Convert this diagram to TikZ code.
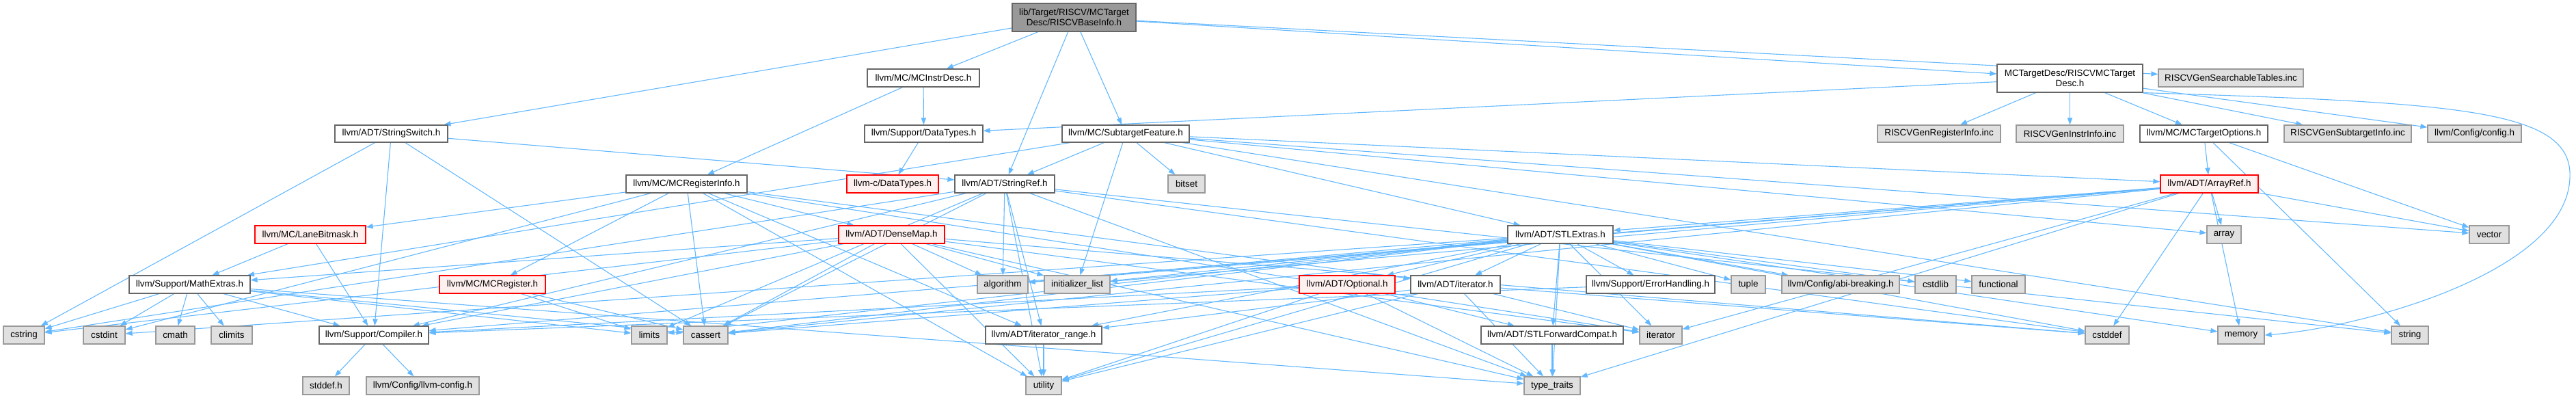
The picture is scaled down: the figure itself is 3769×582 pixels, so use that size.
\documentclass[tikz,border=0pt]{standalone}
\usepackage{fontspec}
\setmainfont{Liberation Sans}
\usetikzlibrary{arrows.meta}
\pgfdeclarelayer{background}
\pgfsetlayers{background,main}
\definecolor{edgeblue}{HTML}{63B8FF}
\definecolor{nodegray}{HTML}{E0E0E0}
\definecolor{bordergray}{HTML}{999999}
\definecolor{borderdark}{HTML}{666666}
\definecolor{redfill}{HTML}{FFF0F0}
\definecolor{rootfill}{HTML}{999999}
\tikzset{
  nbase/.style={draw, rectangle, inner sep=0pt, line width=0.6pt, font=\fontsize{6.7}{7.6}\selectfont, align=center, text=black},
  wn/.style={nbase, draw=borderdark, fill=white},
  gn/.style={nbase, draw=bordergray, fill=nodegray},
  rn/.style={nbase, draw=red, fill=redfill},
  rootn/.style={nbase, draw=borderdark, fill=rootfill},
  e/.style={draw=edgeblue, line width=0.55pt, -{Triangle[length=5pt,width=3.6pt]}}
}
\newcommand\mybox[7]{\node[#1, minimum width={(#4-#3)*0.5pt}, minimum height={(#6-#5)*0.5pt}] (#2) at ({(#3+#4)/2},{(#5+#6)/2}) {#7};}
\begin{document}
\begin{tikzpicture}[x=0.5pt,y=-0.5pt]
\useasboundingbox (0,0) rectangle (3769,582);
% row 0
\mybox{rootn}{root}{1481}{1662}{5}{46}{lib/Target/RISCV/MCTarget\\Desc/RISCVBaseInfo.h}
% row 1
\mybox{wn}{instrdesc}{1269}{1433}{101}{127}{llvm/MC/MCInstrDesc.h}
\mybox{wn}{tdesc}{2922}{3135}{94}{135}{MCTargetDesc/RISCVMCTarget\\Desc.h}
\mybox{gn}{searchtab}{3158}{3370}{101}{127}{RISCVGenSearchableTables.inc}
% row 2
\mybox{wn}{sswitch}{490}{655}{183}{208}{llvm/ADT/StringSwitch.h}
\mybox{wn}{sdatatypes}{1265}{1438}{183}{208}{llvm/Support/DataTypes.h}
\mybox{wn}{subfeat}{1554}{1740}{183}{208}{llvm/MC/SubtargetFeature.h}
\mybox{gn}{genreg}{2747}{2927}{183}{208}{RISCVGenRegisterInfo.inc}
\mybox{gn}{geninstr}{2950}{3107}{183}{208}{RISCVGenInstrInfo.inc}
\mybox{wn}{topts}{3131}{3318}{183}{208}{llvm/MC/MCTargetOptions.h}
\mybox{gn}{gensub}{3342}{3528}{183}{208}{RISCVGenSubtargetInfo.inc}
\mybox{gn}{config}{3552}{3689}{183}{208}{llvm/Config/config.h}
% row 3
\mybox{wn}{reginfo}{916}{1093}{256}{282}{llvm/MC/MCRegisterInfo.h}
\mybox{rn}{cdatatypes}{1239}{1373}{256}{282}{llvm-c/DataTypes.h}
\mybox{wn}{sref}{1397}{1543}{256}{282}{llvm/ADT/StringRef.h}
\mybox{gn}{bitset}{1709}{1763}{256}{282}{bitset}
\mybox{rn}{aref}{3161}{3304}{256}{282}{llvm/ADT/ArrayRef.h}
% row 4
\mybox{rn}{lanebm}{373}{535}{330}{356}{llvm/MC/LaneBitmask.h}
\mybox{rn}{densemap}{1227}{1382}{330}{356}{llvm/ADT/DenseMap.h}
\mybox{wn}{stlextras}{2206}{2360}{330}{356}{llvm/ADT/STLExtras.h}
\mybox{gn}{array}{3229}{3279}{330}{356}{array}
\mybox{gn}{vector}{3613}{3671}{330}{356}{vector}
% row 5
\mybox{wn}{mathex}{189}{366}{403}{429}{llvm/Support/MathExtras.h}
\mybox{rn}{mcreg}{643}{798}{403}{429}{llvm/MC/MCRegister.h}
\mybox{gn}{algorithm}{1430}{1504}{403}{429}{algorithm}
\mybox{gn}{initlist}{1528}{1624}{403}{429}{initializer\_list}
\mybox{rn}{optional}{1901}{2041}{403}{429}{llvm/ADT/Optional.h}
\mybox{wn}{iterh}{2064}{2195}{403}{429}{llvm/ADT/iterator.h}
\mybox{wn}{errh}{2321}{2509}{403}{429}{llvm/Support/ErrorHandling.h}
\mybox{gn}{tuple}{2533}{2583}{403}{429}{tuple}
\mybox{gn}{abi}{2607}{2779}{403}{429}{llvm/Config/abi-breaking.h}
\mybox{gn}{cstdlib}{2802}{2862}{403}{429}{cstdlib}
\mybox{gn}{functional}{2885}{2963}{403}{429}{functional}
% row 6
\mybox{gn}{cstring}{5}{65}{477}{503}{cstring}
\mybox{gn}{cstdint}{122}{183}{477}{503}{cstdint}
\mybox{gn}{cmath}{228}{285}{477}{503}{cmath}
\mybox{gn}{climits}{309}{369}{477}{503}{climits}
\mybox{wn}{compiler}{467}{627}{477}{503}{llvm/Support/Compiler.h}
\mybox{gn}{limits}{924}{976}{477}{503}{limits}
\mybox{gn}{cassert}{1000}{1065}{477}{503}{cassert}
\mybox{wn}{itrange}{1442}{1612}{477}{503}{llvm/ADT/iterator\_range.h}
\mybox{wn}{stlfwd}{2167}{2375}{477}{503}{llvm/ADT/STLForwardCompat.h}
\mybox{gn}{iterator}{2399}{2461}{477}{503}{iterator}
\mybox{gn}{cstddef}{3051}{3115}{477}{503}{cstddef}
\mybox{gn}{memory}{3245}{3313}{477}{503}{memory}
\mybox{gn}{string}{3499}{3553}{477}{503}{string}
% row 7
\mybox{gn}{stddef}{443}{511}{551}{577}{stddef.h}
\mybox{gn}{llvmconfig}{536}{701}{551}{577}{llvm/Config/llvm-config.h}
\mybox{gn}{utility}{1501}{1553}{551}{577}{utility}
\mybox{gn}{typetraits}{2230}{2312}{551}{577}{type\_traits}
% edges
\begin{pgfonlayer}{background}
\foreach \s/\t in {
 root/instrdesc, root/sref, root/subfeat, root/tdesc, root/searchtab, root/sswitch,
 instrdesc/reginfo, instrdesc/sdatatypes,
 tdesc/sdatatypes, tdesc/genreg, tdesc/geninstr, tdesc/topts, tdesc/gensub, tdesc/config,
 sswitch/sref, sswitch/compiler, sswitch/cassert, sswitch/cstring,
 sdatatypes/cdatatypes,
 subfeat/sref, subfeat/aref, subfeat/stlextras, subfeat/mathex, subfeat/bitset, subfeat/initlist, subfeat/string, subfeat/vector, subfeat/array,
 topts/aref, topts/string, topts/vector,
 reginfo/densemap, reginfo/iterh, reginfo/itrange, reginfo/lanebm, reginfo/mcreg, reginfo/cassert, reginfo/cstdint, reginfo/iterator, reginfo/utility,
 sref/itrange, sref/compiler, sref/algorithm, sref/cassert, sref/cstddef, sref/cstring, sref/limits, sref/string, sref/typetraits, sref/utility,
 aref/stlextras, aref/compiler, aref/algorithm, aref/array, aref/cassert, aref/cstddef, aref/initlist, aref/iterator, aref/memory, aref/typetraits, aref/vector,
 lanebm/mathex, lanebm/compiler,
 densemap/compiler, densemap/mathex, densemap/algorithm, densemap/cassert, densemap/cstddef, densemap/cstring, densemap/initlist, densemap/iterator, densemap/typetraits, densemap/utility,
 stlextras/optional, stlextras/iterh, stlextras/errh, stlextras/stlfwd, stlextras/itrange, stlextras/abi, stlextras/algorithm, stlextras/cassert, stlextras/cstddef, stlextras/cstdint, stlextras/cstdlib, stlextras/functional, stlextras/initlist, stlextras/iterator, stlextras/limits, stlextras/memory, stlextras/tuple, stlextras/typetraits, stlextras/utility,
 mathex/compiler, mathex/cassert, mathex/climits, mathex/cmath, mathex/cstdint, mathex/cstring, mathex/limits, mathex/typetraits,
 mcreg/limits, mcreg/cassert,
 optional/stlfwd, optional/compiler, optional/cassert, optional/utility, optional/typetraits,
 iterh/itrange, iterh/cstddef, iterh/iterator, iterh/typetraits, iterh/utility,
 errh/compiler, stlfwd/typetraits, itrange/utility,
 compiler/stddef, compiler/llvmconfig}
 {\draw[e] (\s) -- (\t);}
\draw[e] (tdesc.south east) .. controls (3600,150) and (3765,160) .. (3760,260)
  .. controls (3755,400) and (3450,480) .. (memory.east);
\end{pgfonlayer}
\end{tikzpicture}
\end{document}
